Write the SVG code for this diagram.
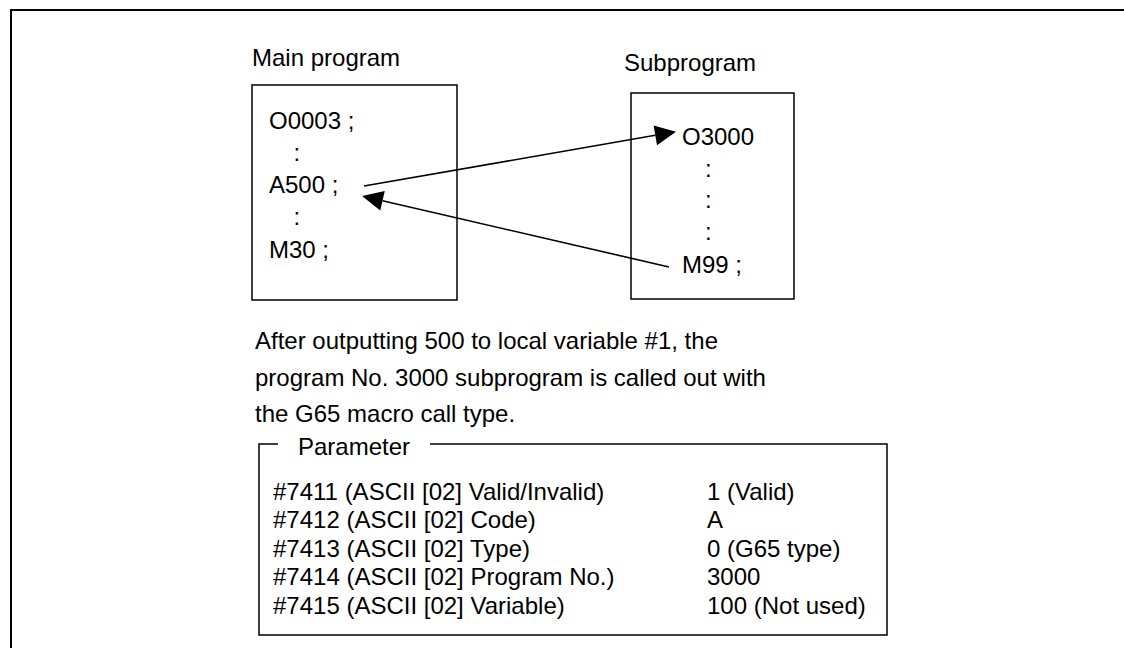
<svg xmlns="http://www.w3.org/2000/svg" width="1124" height="648" viewBox="0 0 1124 648">
<style>
text{font-family:"Liberation Sans",Arial,sans-serif;font-size:24px;fill:#000}
.box{fill:none;stroke:#000;stroke-width:1.5}
.frame{fill:none;stroke:#000;stroke-width:2}
.conn{fill:none;stroke:#000;stroke-width:1.6}
</style>
<defs>
<marker id="ah" markerUnits="userSpaceOnUse" markerWidth="22" markerHeight="22" refX="0" refY="11" orient="auto" overflow="visible">
<path d="M0,1 L21,11 L0,21 Z" fill="#000"/>
</marker>
</defs>
<rect width="1124" height="648" fill="#fff"/>
<g id="frame">
<path class="frame" d="M11,648 V10 H1124"/>
</g>
<g id="main-program">
<text x="252" y="66">Main program</text>
<rect class="box" x="252" y="85" width="205" height="215"/>
<text x="269" y="129">O0003 ;</text>
<text x="293.5" y="161">:</text>
<text x="269" y="193">A500 ;</text>
<text x="293.5" y="225">:</text>
<text x="269" y="258">M30 ;</text>
</g>
<g id="subprogram">
<text x="624" y="71">Subprogram</text>
<rect class="box" x="631" y="93" width="163" height="206"/>
<text x="682" y="145">O3000</text>
<text x="705" y="177">:</text>
<text x="705" y="208">:</text>
<text x="705" y="240">:</text>
<text x="682" y="273">M99 ;</text>
</g>
<g id="connectors">
<line class="conn" x1="364" y1="186" x2="655.3" y2="135.3" marker-end="url(#ah)"/>
<line class="conn" x1="669" y1="267" x2="382.5" y2="200.7" marker-end="url(#ah)"/>
</g>
<g id="description">
<text x="255" y="349">After outputting 500 to local variable #1, the</text>
<text x="255" y="386">program No. 3000 subprogram is called out with</text>
<text x="255" y="422">the G65 macro call type.</text>
</g>
<g id="parameter">
<path class="box" d="M278,444 H259 V635 H887 V444 H430"/>
<text x="298" y="455">Parameter</text>
<text x="273" y="500">#7411 (ASCII [02] Valid/Invalid)</text>
<text x="273" y="528">#7412 (ASCII [02] Code)</text>
<text x="273" y="557">#7413 (ASCII [02] Type)</text>
<text x="273" y="585">#7414 (ASCII [02] Program No.)</text>
<text x="273" y="614">#7415 (ASCII [02] Variable)</text>
<text x="707" y="500">1 (Valid)</text>
<text x="707" y="528">A</text>
<text x="707" y="557">0 (G65 type)</text>
<text x="707" y="585">3000</text>
<text x="707" y="614">100 (Not used)</text>
</g>
</svg>
